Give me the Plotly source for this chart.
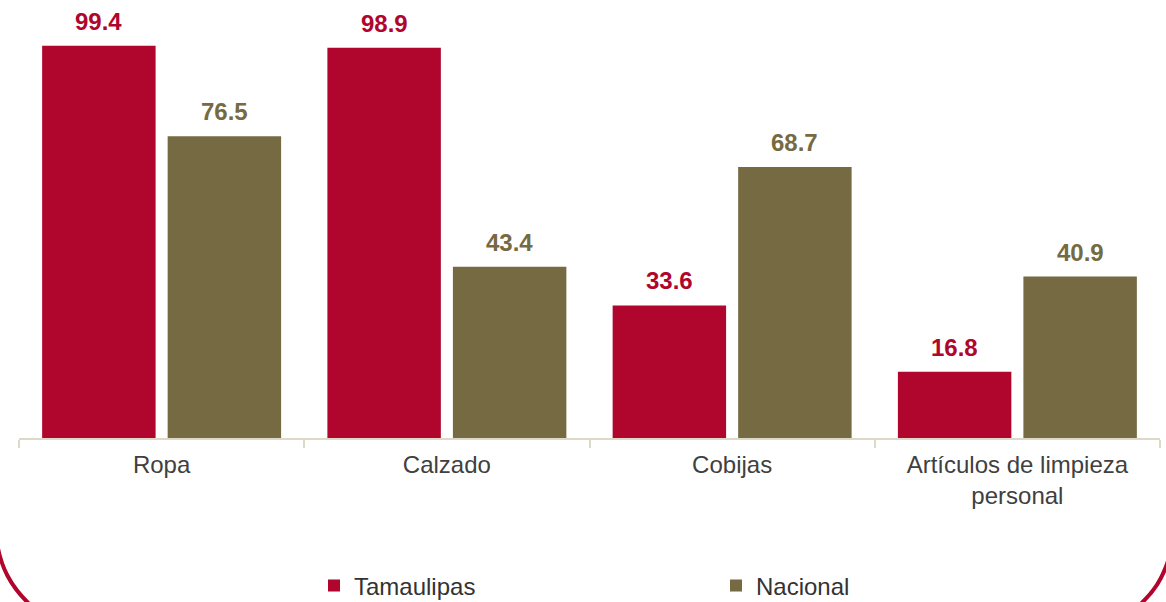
import plotly.graph_objects as go

# Data
categories = ["Ropa", "Calzado", "Cobijas", "Artículos de limpieza<br>personal"]
tamaulipas = [99.4, 98.9, 33.6, 16.8]
nacional = [76.5, 43.4, 68.7, 40.9]
series_names = ["Tamaulipas", "Nacional"]

RED = "#B0052C"
OLIVE = "#756A42"
AXIS = "#DDD9C6"
FONT = "Liberation Sans, Arial, sans-serif"

W, H = 1166, 602
ML, MR, MT, MB = 19, 6, 0, 164
PW, PH = W - ML - MR, H - MT - MB

BARGAP, BARGROUPGAP = 0.12, 0.096


def px(x, y):
    """Convert page pixels to paper coordinates."""
    return (x - ML) / PW, (PH + MT - y) / PH


def path_px(cmds):
    out = []
    for op, pts in cmds:
        coords = " ".join("%.5f,%.5f" % px(*p) for p in pts)
        out.append(op + " " + coords)
    return " ".join(out)


fig = go.Figure()
fig.add_trace(go.Bar(x=categories, y=tamaulipas, name=series_names[0],
                     marker=dict(color=RED, line=dict(width=0)), legend="legend"))
fig.add_trace(go.Bar(x=categories, y=nacional, name=series_names[1],
                     marker=dict(color=OLIVE, line=dict(width=0)), legend="legend2"))

# Value labels above each bar, offset to the bar's slot inside the group
cat_px = PW / len(categories)
slot = cat_px * (1 - BARGAP) / 2
annotations = []
for vals, color, sign in [(tamaulipas, RED, -1), (nacional, OLIVE, 1)]:
    for c, v in zip(categories, vals):
        annotations.append(dict(
            x=c, y=v, xref="x", yref="y", text="%.1f" % v, showarrow=False,
            xanchor="center", yanchor="bottom", xshift=sign * slot / 2, yshift=9,
            font=dict(family=FONT, size=24, color=color, weight="bold"),
        ))

# Rounded frame corners
shapes = [
    dict(type="path", xref="paper", yref="paper", layer="above",
         path=path_px([("M", [(-4, 535)]), ("C", [(-1, 565), (10, 588), (36, 610)])]),
         line=dict(color=RED, width=4)),
    dict(type="path", xref="paper", yref="paper", layer="above",
         path=path_px([("M", [(1170, 555)]), ("C", [(1163, 578), (1155, 592), (1134, 610)])]),
         line=dict(color=RED, width=4)),
]

lx1, ly = px(314, 586)
lx2, _ = px(716, 586)

fig.update_layout(
    width=W, height=H,
    margin=dict(l=ML, r=MR, t=MT, b=MB, pad=0, autoexpand=False),
    paper_bgcolor="white", plot_bgcolor="white",
    barmode="group", bargap=BARGAP, bargroupgap=BARGROUPGAP,
    font=dict(family=FONT, size=24, color="#404040"),
    xaxis=dict(
        type="category", showline=True, linecolor=AXIS, linewidth=2,
        ticks="outside", tickson="boundaries", ticklen=8, tickcolor=AXIS, tickwidth=2,
        tickfont=dict(family=FONT, size=24, color="#404040"), ticklabelstandoff=4,
        showgrid=False, zeroline=False, fixedrange=True, automargin=False,
    ),
    yaxis=dict(range=[0, 111], visible=False, showgrid=False, zeroline=False),
    legend=dict(orientation="h", x=lx1, y=ly, xanchor="left", yanchor="middle",
                font=dict(family=FONT, size=24, color="#333333"),
                bgcolor="rgba(0,0,0,0)", itemclick=False),
    legend2=dict(orientation="h", x=lx2, y=ly, xanchor="left", yanchor="middle",
                 font=dict(family=FONT, size=24, color="#333333"),
                 bgcolor="rgba(0,0,0,0)", itemclick=False),
    annotations=annotations,
    shapes=shapes,
    showlegend=True,
)

fig.write_html("out.html", config={"displayModeBar": False})
